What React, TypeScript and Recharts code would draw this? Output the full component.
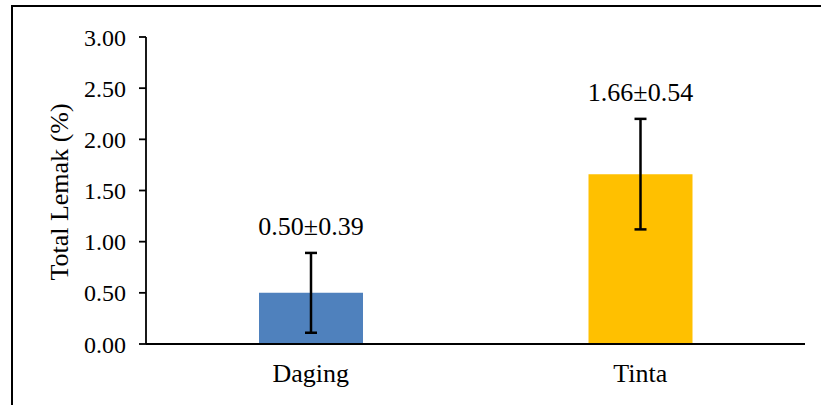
import { BarChart, Bar, XAxis, YAxis, ErrorBar, LabelList, Cell, Label } from 'recharts'

const categories = ['Daging', 'Tinta']
const means = [0.5, 1.66]
const sds = [0.39, 0.54]
const colors = ['#4F81BD', '#FFC000']
const yTicks = [0, 0.5, 1, 1.5, 2, 2.5, 3]

const data = categories.map((name, i) => ({
  name,
  value: means[i],
  err: sds[i],
  text: `${means[i].toFixed(2)}±${sds[i].toFixed(2)}`,
}))

const font = 'Liberation Serif, Times New Roman, serif'

function ValueLabel(props: any) {
  const { x, y, width, height, index } = props
  const d = data[index]
  const perUnit = height / d.value
  const top = y - d.err * perUnit
  return (
    <text x={x + width / 2} y={top - 18} textAnchor="middle" style={{ fontFamily: font }} fontSize={26} fill="#000">
      {d.text}
    </text>
  )
}

export default function App() {
  return (
    <div style={{ position: 'absolute', left: 0, top: 0, width: 821, height: 405, background: '#fff', fontFamily: font }}>
      <div
        style={{
          position: 'absolute',
          left: 11,
          top: 5,
          width: 830,
          height: 420,
          borderLeft: '2.5px solid #000',
          borderTop: '2.5px solid #000',
        }}
      />
      <BarChart
        width={821}
        height={405}
        data={data}
        margin={{ top: 37, right: 16, bottom: 21, left: 66 }}
        style={{ position: 'absolute', left: 0, top: 0, fontFamily: font }}
      >
        <XAxis
          xAxisId="top"
          orientation="top"
          dataKey="name"
          height={0}
          tick={false}
          tickLine={false}
          axisLine={{ stroke: '#8c8c8c', strokeWidth: 1.3 }}
        />
        <YAxis
          yAxisId="right"
          orientation="right"
          width={0}
          domain={[0, 3]}
          tick={false}
          tickLine={false}
          axisLine={{ stroke: '#8c8c8c', strokeWidth: 1.3 }}
        />
        <XAxis
          dataKey="name"
          height={40}
          tickLine={false}
          axisLine={{ stroke: '#000', strokeWidth: 1.8 }}
          tick={{ fontFamily: font, fontSize: 26, fill: '#000' }}
          tickMargin={14}
          interval={0}
        />
        <YAxis
          width={80}
          domain={[0, 3]}
          ticks={yTicks}
          interval={0}
          tickFormatter={(v: number) => v.toFixed(2)}
          tickSize={7}
          tickMargin={13}
          tickLine={{ stroke: '#000', strokeWidth: 1.8 }}
          axisLine={{ stroke: '#000', strokeWidth: 1.8 }}
          tick={{ fontFamily: font, fontSize: 24, fill: '#000' }}
        >
          <Label
            content={() => (
              <text
                x={68}
                y={192}
                transform="rotate(-90 68 192)"
                textAnchor="middle"
                style={{ fontFamily: font }}
                fontSize={26}
                fill="#000"
              >
                Total Lemak (%)
              </text>
            )}
          />
        </YAxis>
        <Bar dataKey="value" barSize={104} isAnimationActive={false}>
          {data.map((d, i) => (
            <Cell key={d.name} fill={colors[i]} />
          ))}
          <ErrorBar dataKey="err" width={6} stroke="#000" strokeWidth={2.5} direction="y" />
          <LabelList dataKey="value" content={<ValueLabel />} />
        </Bar>
      </BarChart>
    </div>
  )
}
